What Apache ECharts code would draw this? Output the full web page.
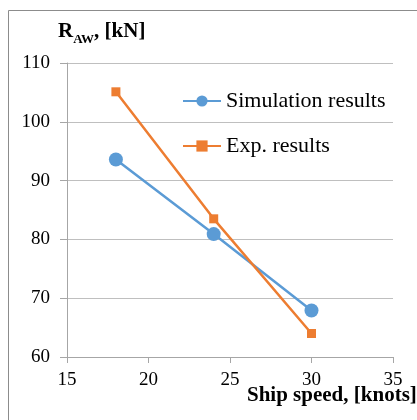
<!DOCTYPE html>
<html>
<head>
<meta charset="utf-8">
<script src="https://cdn.jsdelivr.net/npm/echarts@6/dist/echarts.min.js"></script>
<style>
html,body{margin:0;padding:0;background:#fff;}
#c{width:417px;height:420px;}
</style>
</head>
<body>
<div id="c"></div>
<script>
var seriesNames = ['Simulation results', 'Exp. results'];
var speeds = [18, 24, 30];
var simValues = [93.6, 80.9, 67.9];
var expValues = [105.1, 83.5, 64.0];
var yTicks = {min: 60, max: 110, interval: 10};
var xTicks = {min: 15, max: 35, interval: 5};

var font = 'Liberation Serif';
var chart = echarts.init(document.getElementById('c'), null, {renderer: 'canvas'});
function pairs(xs, ys) { return xs.map(function (x, i) { return [x, ys[i]]; }); }

chart.setOption({
  animation: false,
  backgroundColor: '#fff',
  grid: {left: 67, right: 24, top: 63, bottom: 63, containLabel: false},
  title: {
    text: '{r|R}{s|AW}{r|, [kN]}',
    left: 53, top: 13,
    textStyle: {
      rich: {
        r: {fontFamily: font, fontWeight: 'bold', fontSize: 21, color: '#000', verticalAlign: 'bottom', lineHeight: 24},
        s: {fontFamily: font, fontWeight: 'bold', fontSize: 13, color: '#000', verticalAlign: 'bottom', lineHeight: 24, padding: [0, 0, -4, 0]}
      }
    }
  },
  legend: {
    orient: 'vertical',
    left: 177, top: 85,
    itemWidth: 38, itemHeight: 14, itemGap: 23,
    textStyle: {fontFamily: font, fontSize: 22, color: '#000', lineHeight: 22},
    data: seriesNames
  },
  xAxis: {
    type: 'value',
    min: xTicks.min, max: xTicks.max, interval: xTicks.interval,
    axisLine: {show: true, onZero: false, lineStyle: {color: '#a6a6a6', width: 1}},
    axisTick: {show: true, length: 6, lineStyle: {color: '#a6a6a6'}},
    axisLabel: {fontFamily: font, fontSize: 19, color: '#000', margin: 14},
    splitLine: {show: false}
  },
  yAxis: {
    type: 'value',
    min: yTicks.min, max: yTicks.max, interval: yTicks.interval,
    axisLine: {show: true, lineStyle: {color: '#a6a6a6', width: 1}},
    axisTick: {show: true, length: 7, lineStyle: {color: '#a6a6a6'}},
    axisLabel: {fontFamily: font, fontSize: 19, color: '#000', margin: 17},
    splitLine: {show: true, lineStyle: {color: '#bfbfbf', width: 1}}
  },
  graphic: [
    {type: 'rect', shape: {x: 8.5, y: 10.5, width: 430, height: 430}, style: {fill: null, stroke: '#8c8c8c', lineWidth: 1}, z: -10, silent: true},
    {type: 'text', left: 247, top: 385, style: {text: 'Ship speed, [knots]', fontFamily: font, fontWeight: 'bold', fontSize: 21, fill: '#000'}}
  ],
  series: [
    {
      name: seriesNames[0], type: 'line', data: pairs(speeds, simValues),
      symbol: 'circle', symbolSize: 14,
      lineStyle: {color: '#5b9bd5', width: 2.5},
      itemStyle: {color: '#5b9bd5'}
    },
    {
      name: seriesNames[1], type: 'line', data: pairs(speeds, expValues),
      symbol: 'rect', symbolSize: 9,
      lineStyle: {color: '#ed7d31', width: 2.5},
      itemStyle: {color: '#ed7d31'}
    }
  ]
});
</script>
</body>
</html>
